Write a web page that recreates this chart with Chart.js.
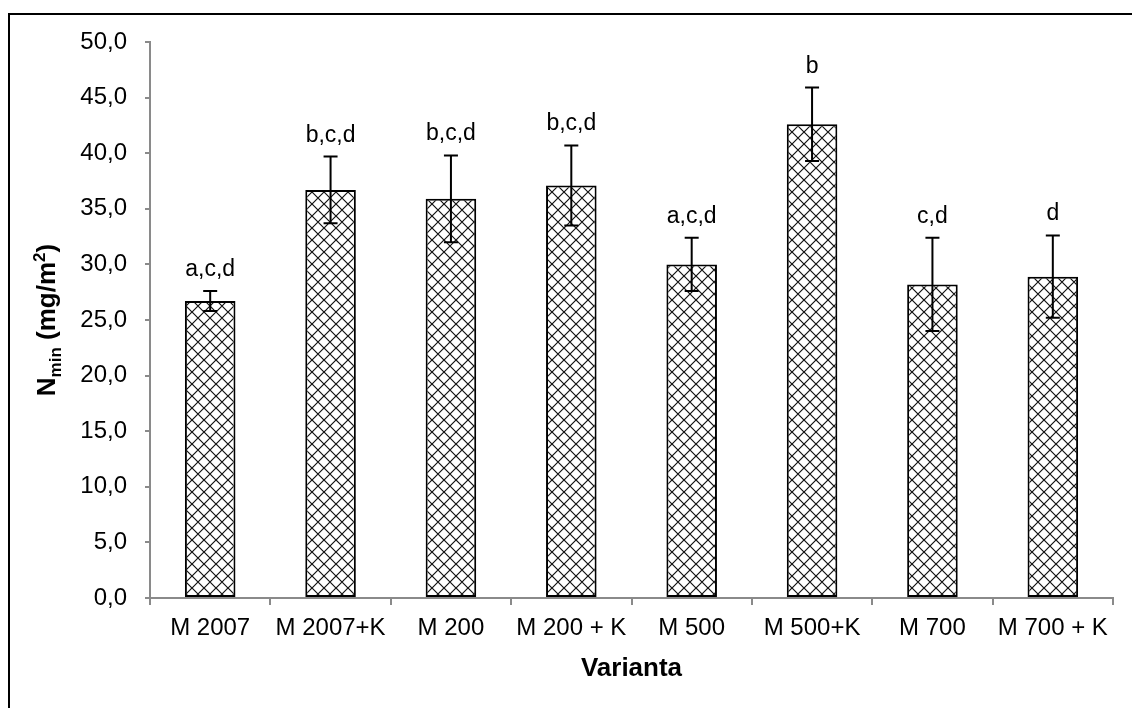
<!DOCTYPE html>
<html>
<head>
<meta charset="utf-8">
<script src="https://cdn.jsdelivr.net/npm/chart.js@4.4.1/dist/chart.umd.min.js"></script>
<style>
    html, body { margin: 0; padding: 0; background: #fff; }
    #wrap { width: 1132px; height: 708px; position: relative; }
</style>
</head>
<body>
<div id="wrap"><canvas id="nminChart"></canvas></div>
<script>
// ================= DATA =================
const categories = ['M 2007', 'M 2007+K', 'M 200', 'M 200 + K', 'M 500', 'M 500+K', 'M 700', 'M 700 + K'];
const meanValues = [26.7, 36.7, 35.9, 37.1, 30.0, 42.6, 28.2, 28.9];
const errorValues = [0.9, 3.0, 3.9, 3.6, 2.4, 3.3, 4.2, 3.7];
const groupLetters = ['a,c,d', 'b,c,d', 'b,c,d', 'b,c,d', 'a,c,d', 'b', 'c,d', 'd'];
const yTicks = [0, 5, 10, 15, 20, 25, 30, 35, 40, 45, 50];

const FONT = '"Liberation Sans", Arial, sans-serif';

// cross hatch fill like the excel pattern
function makeCrossPattern() {
    const size = 12;
    const c = document.createElement('canvas');
    c.width = size; c.height = size;
    const ctx = c.getContext('2d');
    ctx.fillStyle = '#fff';
    ctx.fillRect(0, 0, size, size);
    ctx.strokeStyle = '#111';
    ctx.lineWidth = 1.2;
    ctx.beginPath();
    ctx.moveTo(-1, -1); ctx.lineTo(size + 1, size + 1);
    ctx.moveTo(size + 1, -1); ctx.lineTo(-1, size + 1);
    ctx.stroke();
    return ctx.createPattern(c, 'repeat');
}

// frame, titles, error bars and letters
const extrasPlugin = {
    id: 'extras',
    afterDatasetsDraw(chart) {
        const ctx = chart.ctx;
        const yScale = chart.scales.y;
        const meta = chart.getDatasetMeta(0);
        ctx.save();
        ctx.strokeStyle = '#000';
        ctx.lineWidth = 2;
        meta.data.forEach((bar, i) => {
            const top = yScale.getPixelForValue(meanValues[i] + errorValues[i]);
            const bottom = yScale.getPixelForValue(meanValues[i] - errorValues[i]);
            ctx.beginPath();
            ctx.moveTo(bar.x, top); ctx.lineTo(bar.x, bottom);
            ctx.moveTo(bar.x - 7, top); ctx.lineTo(bar.x + 7, top);
            ctx.moveTo(bar.x - 7, bottom); ctx.lineTo(bar.x + 7, bottom);
            ctx.stroke();

            ctx.fillStyle = '#000';
            ctx.font = '23px ' + FONT;
            ctx.textAlign = 'center';
            ctx.textBaseline = 'alphabetic';
            ctx.fillText(groupLetters[i], bar.x, top - 15);
        });
        ctx.restore();
    },
    afterDraw(chart) {
        const ctx = chart.ctx;
        const area = chart.chartArea;
        ctx.save();

        // outer frame (left + top visible)
        ctx.strokeStyle = '#000';
        ctx.lineWidth = 2;
        ctx.beginPath();
        ctx.moveTo(9, 708); ctx.lineTo(9, 14); ctx.lineTo(1132, 14);
        ctx.stroke();

        // x title
        ctx.fillStyle = '#000';
        ctx.font = 'bold 26px ' + FONT;
        ctx.textAlign = 'center';
        ctx.textBaseline = 'middle';
        ctx.fillText('Varianta', (area.left + area.right) / 2, 669);

        // y title with sub/superscript
        const parts = [
            { t: 'N', size: 26, dy: 0 },
            { t: 'min', size: 17, dy: 6 },
            { t: ' (mg/m', size: 26, dy: 0 },
            { t: '2', size: 17, dy: -10 },
            { t: ')', size: 26, dy: 0 }
        ];
        let total = 0;
        parts.forEach(p => {
            ctx.font = 'bold ' + p.size + 'px ' + FONT;
            p.w = ctx.measureText(p.t).width;
            total += p.w;
        });
        ctx.translate(55, (area.top + area.bottom) / 2);
        ctx.rotate(-Math.PI / 2);
        ctx.textAlign = 'left';
        ctx.textBaseline = 'alphabetic';
        let x = -total / 2;
        parts.forEach(p => {
            ctx.font = 'bold ' + p.size + 'px ' + FONT;
            ctx.fillText(p.t, x, p.dy);
            x += p.w;
        });
        ctx.restore();
    }
};

// ================= CHART =================
const canvas = document.getElementById('nminChart');
const nminChart = new Chart(canvas, {
    type: 'bar',
    data: {
        labels: categories,
        datasets: [{
            data: meanValues,
            backgroundColor: makeCrossPattern(),
            borderColor: '#000',
            borderWidth: 2,
            borderSkipped: false,
            categoryPercentage: 1.0,
            barPercentage: 0.42
        }]
    },
    options: {
        responsive: true,
        maintainAspectRatio: false,
        animation: false,
        devicePixelRatio: 1,
        layout: { padding: { top: 42, right: 19, left: 0, bottom: 0 } },
        plugins: { legend: { display: false }, tooltip: { enabled: false } },
        scales: {
            x: {
                afterFit: (scale) => { scale.height = 110; },
                border: { color: '#8a8a8a', width: 2 },
                grid: { drawOnChartArea: false, drawTicks: true, tickLength: 7, color: '#8a8a8a', lineWidth: 2, offset: true },
                ticks: { color: '#000', font: { family: FONT, size: 24 }, padding: 9, maxRotation: 0, autoSkip: false }
            },
            y: {
                min: 0,
                max: 50,
                afterFit: (scale) => { scale.width = 150; },
                afterBuildTicks: (scale) => { scale.ticks = yTicks.map(v => ({ value: v })); },
                border: { color: '#8a8a8a', width: 2 },
                grid: { drawOnChartArea: false, drawTicks: true, tickLength: 5, color: '#8a8a8a', lineWidth: 2 },
                ticks: {
                    color: '#000',
                    font: { family: FONT, size: 24 },
                    padding: 18,
                    callback: (v) => Number(v).toFixed(1).replace('.', ',')
                }
            }
        }
    },
    plugins: [extrasPlugin]
});
</script>
</body>
</html>
